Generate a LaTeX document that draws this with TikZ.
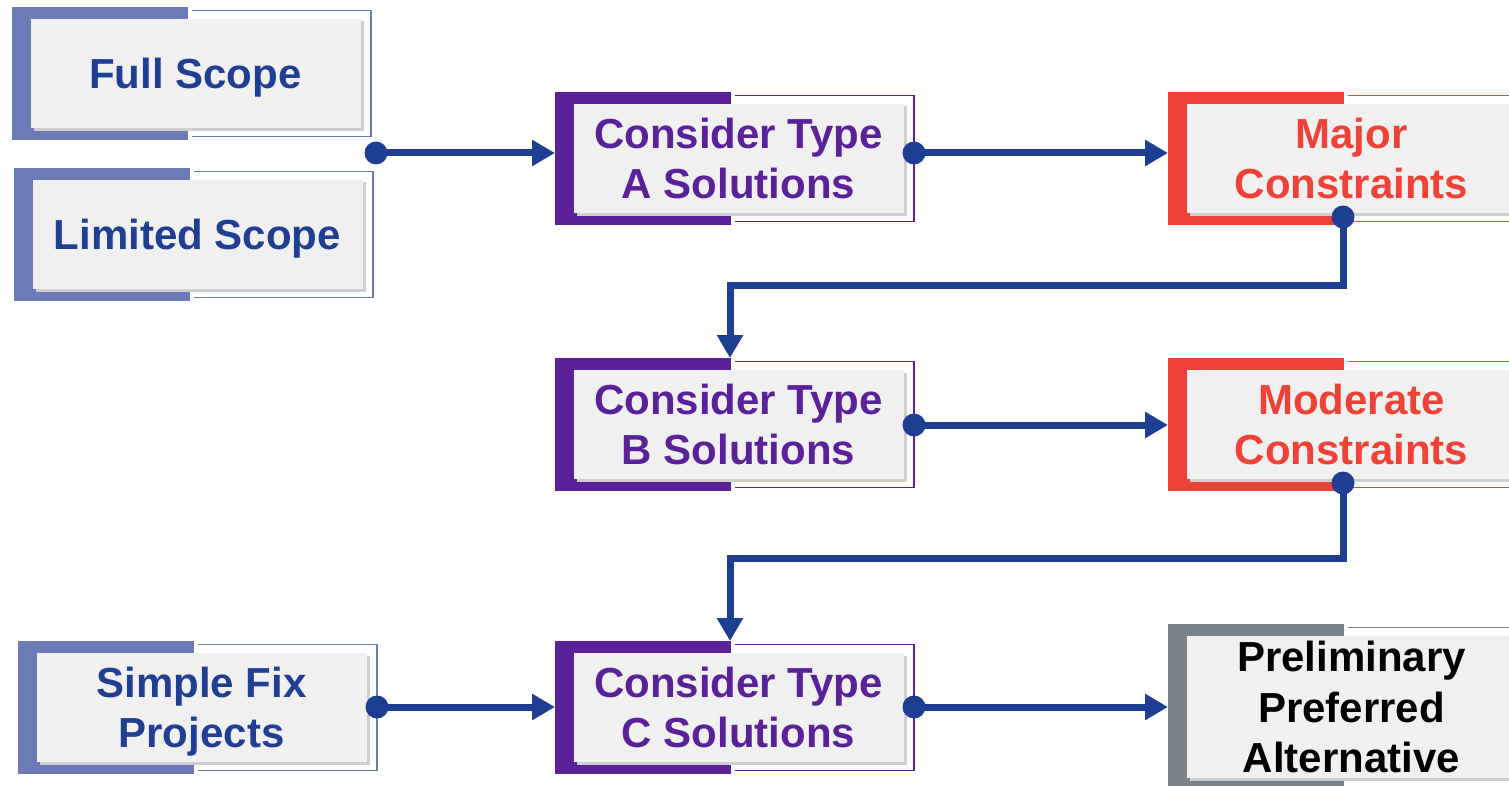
\documentclass[tikz,border=0pt]{standalone}
\usepackage{fontspec}
\setmainfont{Liberation Sans}
\usetikzlibrary{arrows.meta}
\definecolor{frameblue}{HTML}{6B7BB7}
\definecolor{textblue}{HTML}{1F3F93}
\definecolor{purp}{HTML}{5B2199}
\definecolor{redc}{HTML}{EE4237}
\definecolor{grayframe}{HTML}{7A8187}
\definecolor{innerc}{HTML}{F0F0F0}
\definecolor{shadowc}{HTML}{CFCFCF}
\definecolor{connc}{HTML}{1E3F91}
\tikzset{
  innerbox/.style={fill=innerc, inner sep=0pt, minimum width=330pt, align=center,
    text depth=0pt, font=\fontsize{42}{50.5}\selectfont\bfseries},
  conn/.style={draw=connc, line width=7pt, -{Triangle[length=23pt,width=25pt]}},
  dotc/.style={fill=connc},
}
\newcommand{\flowbox}[7]{%
  \fill[#5] (#2,#3) rectangle ++(176,#4);
  \draw[#5, line width=1.6pt] (#2+180,#3+3.5) -- (#2+359,#3+3.5) -- (#2+359,#3+#4-3.5) -- (#2+180,#3+#4-3.5);
  \fill[shadowc] (#2+21.5,#3+14.5) rectangle (#2+351.5,#3+#4-9);
  \node[innerbox, text=#6, minimum height={(#4-24)*1pt}] (#1) at (#2+183.5,#3+#4/2) {#7};
  \coordinate (#1-w) at (#2,#3+#4/2);
  \coordinate (#1-e) at (#2+359,#3+#4/2);
  \coordinate (#1-n) at (#2+175,#3);
  \coordinate (#1-s) at (#2+175,#3+#4-8);
}
\begin{document}
\begin{tikzpicture}[x=1pt,y=-1pt]
\useasboundingbox (0,0) rectangle (1509,786);
\begin{scope}
\clip (0,0) rectangle (1509,786);
\flowbox{full}{12}{7}{133}{frameblue}{textblue}{Full Scope}
\flowbox{limited}{14}{168}{133}{frameblue}{textblue}{Limited Scope}
\flowbox{simple}{18}{641}{133}{frameblue}{textblue}{Simple Fix\\Projects}
\flowbox{typeA}{555}{92}{133}{purp}{purp}{Consider Type\\A Solutions}
\flowbox{typeB}{555}{358}{133}{purp}{purp}{Consider Type\\B Solutions}
\flowbox{typeC}{555}{641}{133}{purp}{purp}{Consider Type\\C Solutions}
\flowbox{major}{1168}{92}{133}{redc}{redc}{Major\\Constraints}
\flowbox{moderate}{1168}{358}{133}{redc}{redc}{Moderate\\Constraints}
\flowbox{prelim}{1168}{624}{166}{grayframe}{black}{Preliminary\\Preferred\\Alternative}

\coordinate (scope) at (376,153);
\coordinate (aout) at (914,153);
\coordinate (bout) at (914,425);
\coordinate (cout) at (914,707);
\coordinate (sout) at (377,707);

% horizontal connectors
\draw[conn] (scope) -- (scope -| typeA-w);
\fill[dotc] (scope) circle (11.5pt);
\draw[conn] (aout) -- (aout -| major-w);
\fill[dotc] (aout) circle (11.5pt);
\draw[conn] (bout) -- (bout -| moderate-w);
\fill[dotc] (bout) circle (11.5pt);
\draw[conn] (sout) -- (sout -| typeC-w);
\fill[dotc] (sout) circle (11.5pt);
\draw[conn] (cout) -- (cout -| prelim-w);
\fill[dotc] (cout) circle (11.5pt);

% elbow connectors
\draw[conn] (major-s) -- ++(0,68) -| (typeB-n);
\fill[dotc] (major-s) circle (11.5pt);
\draw[conn] (moderate-s) -- ++(0,75) -| (typeC-n);
\fill[dotc] (moderate-s) circle (11.5pt);
\end{scope}
\end{tikzpicture}
\end{document}
